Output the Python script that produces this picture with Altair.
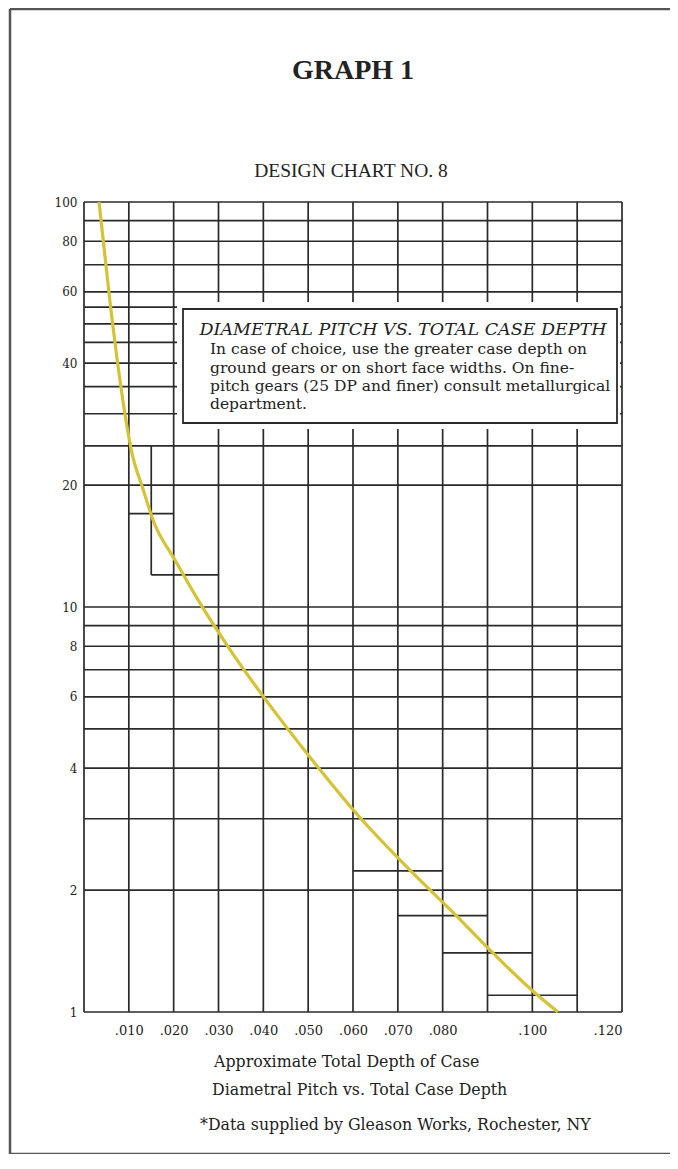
import altair as alt
import pandas as pd

# ---- data ----
curve_depth = [0.00335, 0.00575, 0.00865, 0.01055, 0.01323, 0.01539, 0.0203, 0.02625,
               0.03263, 0.0406, 0.0509, 0.0611, 0.0727, 0.0828, 0.0906, 0.1006, 0.1057]
curve_dp = [100, 57.3, 32.5, 24.4, 19.45, 16.4, 13.06, 10.06,
            7.83, 5.89, 4.19, 3.06, 2.24, 1.74, 1.42, 1.114, 1.0]

h_grid = [100, 90, 80, 70, 60, 55, 50, 45, 40, 35, 30, 25, 20, 10, 9, 8, 7, 6, 5, 4, 3, 2, 1]
v_grid = [0.00, 0.01, 0.02, 0.03, 0.04, 0.05, 0.06, 0.07, 0.08, 0.09, 0.10, 0.11, 0.12]

step_y = [17, 12, 2.23, 1.73, 1.4, 1.1]
step_x1 = [0.010, 0.015, 0.060, 0.070, 0.080, 0.090]
step_x2 = [0.020, 0.030, 0.080, 0.090, 0.100, 0.110]
vstep_x = [0.015]
vstep_y1 = [25]
vstep_y2 = [12]

x_tick_values = [0.01, 0.02, 0.03, 0.04, 0.05, 0.06, 0.07, 0.08, 0.10, 0.12]
y_tick_values = [1, 2, 4, 6, 8, 10, 20, 40, 60, 80, 100]

title_text = "GRAPH 1"
subtitle_text = "DESIGN CHART NO. 8"
box_head = "DIAMETRAL PITCH VS. TOTAL CASE DEPTH"
box_lines = ["In case of choice, use the greater case depth on",
             "ground gears or on short face widths. On fine-",
             "pitch gears (25 DP and finer) consult metallurgical",
             "department."]
xlabel1 = "Approximate Total Depth of Case"
xlabel2 = "Diametral Pitch vs. Total Case Depth"
note = "*Data supplied by Gleason Works, Rochester, NY"

# ---- styling ----
SERIF = "DejaVu Serif"
GRID = "#2a2a2a"
BG = "#ffffff"
TXT = "#222222"
W, H = 538, 810

xs = alt.Scale(domain=[0, 0.12], nice=False, zero=False)
ys = alt.Scale(type="log", domain=[1, 100], nice=False)

one = pd.DataFrame({"k": [0]})

xaxis = alt.Axis(values=x_tick_values, labelExpr="substring(format(datum.value, '.3f'), 1)",
                 grid=False, ticks=False, domain=False, title=None, labelFont=SERIF,
                 labelFontSize=13, labelColor=TXT, labelPadding=12)
yaxis = alt.Axis(values=y_tick_values, labelExpr="format(datum.value, 'd')",
                 grid=False, ticks=False, domain=False, title=None, labelFont=SERIF,
                 labelFontSize=12, labelColor=TXT, labelPadding=7)

hgrid = alt.Chart(pd.DataFrame({"v": h_grid})).mark_rule(color=GRID, strokeWidth=1.7).encode(
    y=alt.Y("v:Q", scale=ys, axis=yaxis))
vgrid = alt.Chart(pd.DataFrame({"d": v_grid})).mark_rule(color=GRID, strokeWidth=1.7).encode(
    x=alt.X("d:Q", scale=xs, axis=xaxis))

steps = alt.Chart(pd.DataFrame({"y": step_y, "x1": step_x1, "x2": step_x2})).mark_rule(
    color=GRID, strokeWidth=1.7).encode(
    x=alt.X("x1:Q", scale=xs), x2="x2:Q", y=alt.Y("y:Q", scale=ys))
vsteps = alt.Chart(pd.DataFrame({"x": vstep_x, "y1": vstep_y1, "y2": vstep_y2})).mark_rule(
    color=GRID, strokeWidth=1.7).encode(
    x=alt.X("x:Q", scale=xs), y=alt.Y("y1:Q", scale=ys), y2="y2:Q")

curve = alt.Chart(pd.DataFrame({"d": curve_depth, "p": curve_dp})).mark_line(
    color="#d6c236", strokeWidth=3.2, interpolate="monotone").encode(
    x=alt.X("d:Q", scale=xs), y=alt.Y("p:Q", scale=ys), order="d:Q")

mask = alt.Chart(one).mark_rect(color=BG).encode(
    x=alt.value(93), x2=alt.value(536), y=alt.value(100), y2=alt.value(227))
box = alt.Chart(one).mark_rect(fill=BG, stroke=GRID, strokeWidth=1.8).encode(
    x=alt.value(99), x2=alt.value(533), y=alt.value(107), y2=alt.value(221))

head = alt.Chart(one).mark_text(text=box_head, font=SERIF, fontStyle="italic", fontSize=17.5,
                                color=TXT, align="center", baseline="middle").encode(
    x=alt.value(319), y=alt.value(128))
body_layers = []
for ln, yy in zip(box_lines, [147, 165.5, 184, 202]):
    body_layers.append(alt.Chart(one).mark_text(text=ln, font=SERIF, fontSize=15.5, color=TXT,
                                                align="left", baseline="middle").encode(
        x=alt.value(126), y=alt.value(yy)))

t_title = alt.Chart(one).mark_text(text=title_text, font="Liberation Serif", fontWeight="bold",
                                   fontSize=28, color=TXT, align="center", baseline="middle").encode(
    x=alt.value(269), y=alt.value(-131))
t_sub = alt.Chart(one).mark_text(text=subtitle_text, font="Liberation Serif", fontSize=19.5,
                                 color=TXT, align="center", baseline="middle").encode(
    x=alt.value(267), y=alt.value(-31))
t_x1 = alt.Chart(one).mark_text(text=xlabel1, font=SERIF, fontSize=15.8, color=TXT,
                                align="left", baseline="middle").encode(
    x=alt.value(130), y=alt.value(860))
t_x2 = alt.Chart(one).mark_text(text=xlabel2, font=SERIF, fontSize=15.8, color=TXT,
                                align="left", baseline="middle").encode(
    x=alt.value(128), y=alt.value(888))
t_note = alt.Chart(one).mark_text(text=note, font=SERIF, fontSize=15.8, color=TXT,
                                  align="left", baseline="middle").encode(
    x=alt.value(116), y=alt.value(923))

FRAME = "#555555"
f_left = alt.Chart(one).mark_rule(color=FRAME, strokeWidth=2.5).encode(
    x=alt.value(-74), y=alt.value(-193), y2=alt.value(952))
f_top = alt.Chart(one).mark_rule(color=FRAME, strokeWidth=2.5).encode(
    x=alt.value(-74), x2=alt.value(600), y=alt.value(-193))
f_bot = alt.Chart(one).mark_rule(color=FRAME, strokeWidth=2.5).encode(
    x=alt.value(-74), x2=alt.value(600), y=alt.value(952))

chart = alt.layer(
    hgrid, vgrid, steps, vsteps, curve, mask, box, head, *body_layers,
    t_title, t_sub, t_x1, t_x2, t_note, f_left, f_top, f_bot
).properties(
    width=W, height=H,
    autosize=alt.AutoSizeParams(type="none"),
    padding={"left": 76, "top": 194, "right": 48, "bottom": 142},
    background="transparent",
).configure_view(stroke=None)

chart.save("out.html", embed_options={"renderer": "svg", "actions": False})
